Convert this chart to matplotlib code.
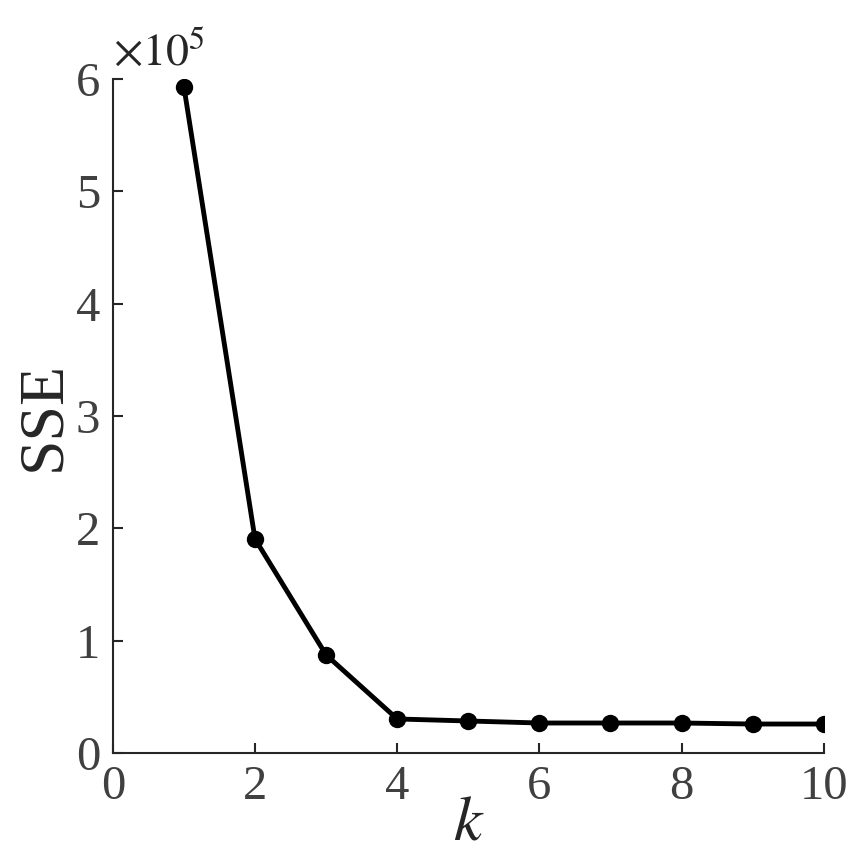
import matplotlib.pyplot as plt
import numpy as np

plt.rcParams['font.family'] = ['Liberation Serif', 'DejaVu Serif']
plt.rcParams['mathtext.fontset'] = 'stix'

# 数据
k_values = [1, 2, 3, 4, 5, 6, 7, 8, 9, 10]
sse_values = [593000, 190500, 87300, 30300, 28500, 26700, 26700, 26700, 25800, 25800]
y_ticks = [0, 1, 2, 3, 4, 5, 6]
x_ticks = [0, 2, 4, 6, 8, 10]

fig = plt.figure(figsize=(8.68, 8.59), dpi=100)
ax = fig.add_axes([0.130, 0.1234, 0.819, 0.7846])

ax.plot(k_values, sse_values, color='black', lw=3.5, marker='o', markersize=11.5)

ax.set_xlim(0, 10)
ax.set_ylim(0, 6e5)
ax.set_xticks(x_ticks)
ax.set_yticks([t * 1e5 for t in y_ticks])
ax.set_yticklabels([str(t) for t in y_ticks])

for s in ['top', 'right']:
    ax.spines[s].set_visible(False)
for s in ['left', 'bottom']:
    ax.spines[s].set_color('#262626')
    ax.spines[s].set_linewidth(1.5)
ax.tick_params(direction='in', length=7, width=1.5, color='#262626',
               labelsize=35, labelcolor='#404040', pad=9)

ax.set_xlabel('$k$', fontsize=46, color='#262626', labelpad=-10)
ax.set_ylabel('SSE', fontsize=46, color='#262626', labelpad=2)
ax.text(0.0, 1.005, r'$\times10^5$', transform=ax.transAxes, fontsize=33,
        color='#262626', ha='left', va='bottom')

fig.savefig('out.png', dpi=100)
